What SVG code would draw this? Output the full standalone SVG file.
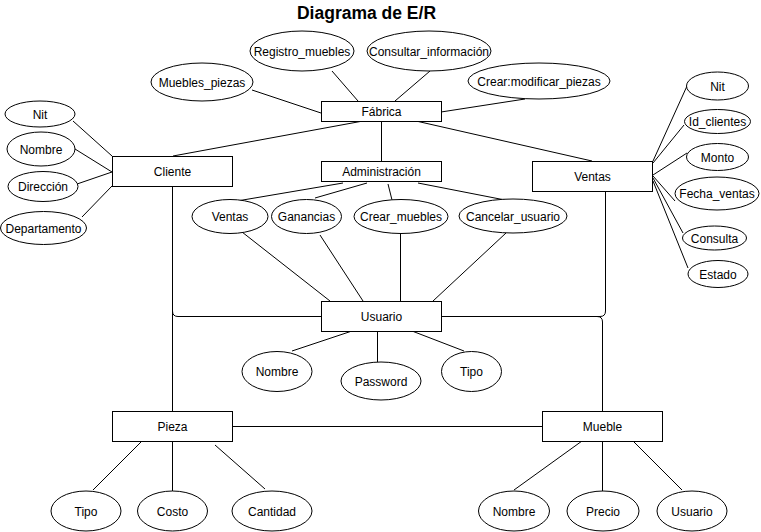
<svg xmlns="http://www.w3.org/2000/svg" width="761" height="532" viewBox="0 0 761 532">
<style>
rect,ellipse{fill:#fff;stroke:#000;stroke-width:1}
.c line,.c path{stroke:#000;stroke-width:1;fill:none}
text{font-family:"Liberation Sans",Arial,sans-serif;font-size:12px;text-anchor:middle;fill:#000}
.t{font-size:17.5px;font-weight:bold}
</style>
<rect x="0" y="0" width="761" height="532" style="stroke:none"/>
<text class="t" x="366.5" y="19">Diagrama de E/R</text>
<g class="c" id="connectors">
<line x1="252" y1="90" x2="321" y2="113"/>
<line x1="332" y1="71" x2="358" y2="101"/>
<line x1="430" y1="71" x2="395" y2="101"/>
<line x1="525" y1="99" x2="441" y2="112"/>
<line x1="363" y1="121" x2="173" y2="156"/>
<line x1="381.5" y1="121" x2="381.5" y2="161"/>
<line x1="416" y1="121" x2="592" y2="161"/>
<line x1="73" y1="121" x2="112" y2="156"/>
<line x1="75" y1="149" x2="112" y2="172"/>
<line x1="77" y1="184" x2="112" y2="172"/>
<line x1="82" y1="217" x2="112" y2="186"/>
<line x1="343" y1="183" x2="237" y2="201"/>
<line x1="367" y1="183" x2="315" y2="198"/>
<line x1="388" y1="184" x2="392" y2="200"/>
<line x1="418" y1="183" x2="505" y2="200"/>
<line x1="242" y1="232" x2="330" y2="301"/>
<line x1="320" y1="235" x2="363" y2="301"/>
<line x1="400.5" y1="233" x2="400.5" y2="301"/>
<line x1="506" y1="233" x2="433" y2="301"/>
<path d="M172.5,186 V311 Q172.5,316.5 178,316.5 H321"/>
<path d="M605.5,191 V311 Q605.5,316.5 600,316.5 H441"/>
<path d="M441,316.5 H597 Q602.5,316.5 602.5,322 V411"/>
<path d="M172.5,186 V411"/>
<path d="M232,426.5 H542"/>
<line x1="292" y1="351" x2="352" y2="331"/>
<line x1="377.5" y1="331" x2="377.5" y2="362"/>
<line x1="412" y1="331" x2="464" y2="351"/>
<line x1="93" y1="490" x2="142" y2="441"/>
<line x1="172.5" y1="441" x2="172.5" y2="491"/>
<line x1="215" y1="445" x2="265" y2="489"/>
<line x1="514" y1="490" x2="582" y2="441"/>
<line x1="602.5" y1="441" x2="602.5" y2="491"/>
<line x1="633" y1="441" x2="682" y2="490"/>
<line x1="687" y1="86" x2="653" y2="161"/>
<line x1="684" y1="125" x2="653" y2="163"/>
<line x1="687" y1="153" x2="653" y2="175"/>
<line x1="675" y1="201" x2="653" y2="176"/>
<line x1="683" y1="233" x2="653" y2="178"/>
<line x1="688" y1="268" x2="653" y2="181"/>
</g>
<g id="fabrica"><rect x="321.5" y="101.5" width="120" height="20"/><text x="381.5" y="115.5">Fábrica</text></g>
<g id="administracion"><rect x="321.5" y="161.5" width="120" height="20"/><text x="381.5" y="175.5">Administración</text></g>
<g id="cliente"><rect x="112.5" y="156.5" width="120" height="30"/><text x="172.5" y="175.5">Cliente</text></g>
<g id="ventas"><rect x="532.5" y="161.5" width="120" height="30"/><text x="592.5" y="180.5">Ventas</text></g>
<g id="usuario"><rect x="321.5" y="301.5" width="120" height="30"/><text x="381.5" y="320.5">Usuario</text></g>
<g id="pieza"><rect x="112.5" y="411.5" width="120" height="30"/><text x="172.5" y="430.5">Pieza</text></g>
<g id="mueble"><rect x="542.5" y="411.5" width="120" height="30"/><text x="602.5" y="430.5">Mueble</text></g>
<g id="registro_muebles"><ellipse cx="302" cy="51" rx="52" ry="20"/><text x="302" y="55.5">Registro_muebles</text></g>
<g id="consultar_informacion"><ellipse cx="429" cy="51" rx="62" ry="20"/><text x="429" y="55.5">Consultar_información</text></g>
<g id="muebles_piezas"><ellipse cx="202" cy="82" rx="51" ry="19"/><text x="202" y="86.5">Muebles_piezas</text></g>
<g id="crear_modificar_piezas"><ellipse cx="539" cy="81" rx="71" ry="18"/><text x="539" y="85.5">Crear:modificar_piezas</text></g>
<g id="cliente_nit"><ellipse cx="40" cy="114" rx="35" ry="13"/><text x="40" y="118.5">Nit</text></g>
<g id="cliente_nombre"><ellipse cx="41" cy="149" rx="34" ry="17"/><text x="41" y="153.5">Nombre</text></g>
<g id="cliente_direccion"><ellipse cx="43" cy="186.5" rx="35" ry="15"/><text x="43" y="191">Dirección</text></g>
<g id="cliente_departamento"><ellipse cx="43.5" cy="228" rx="43" ry="16.5"/><text x="43.5" y="232.5">Departamento</text></g>
<g id="admin_ventas"><ellipse cx="230" cy="216.5" rx="38" ry="17"/><text x="230" y="221">Ventas</text></g>
<g id="admin_ganancias"><ellipse cx="306.5" cy="216.5" rx="35" ry="17"/><text x="306.5" y="221">Ganancias</text></g>
<g id="admin_crear_muebles"><ellipse cx="401" cy="216.5" rx="47" ry="17"/><text x="401" y="221">Crear_muebles</text></g>
<g id="admin_cancelar_usuario"><ellipse cx="513" cy="216" rx="54" ry="17"/><text x="513" y="220.5">Cancelar_usuario</text></g>
<g id="usuario_nombre"><ellipse cx="277" cy="371.5" rx="35" ry="20"/><text x="277" y="376">Nombre</text></g>
<g id="usuario_password"><ellipse cx="381" cy="381" rx="40" ry="19"/><text x="381" y="386">Password</text></g>
<g id="usuario_tipo"><ellipse cx="471.5" cy="371.5" rx="30" ry="20"/><text x="471.5" y="376">Tipo</text></g>
<g id="ventas_nit"><ellipse cx="717.5" cy="86" rx="31" ry="14"/><text x="717.5" y="90.5">Nit</text></g>
<g id="ventas_id_clientes"><ellipse cx="717.5" cy="121.5" rx="33" ry="12"/><text x="717.5" y="126">Id_clientes</text></g>
<g id="ventas_monto"><ellipse cx="717.5" cy="157" rx="31" ry="13.5"/><text x="717.5" y="161.5">Monto</text></g>
<g id="ventas_fecha"><ellipse cx="717" cy="193.5" rx="42" ry="16.5"/><text x="717" y="198">Fecha_ventas</text></g>
<g id="ventas_consulta"><ellipse cx="714.5" cy="238" rx="32" ry="12"/><text x="714.5" y="242.5">Consulta</text></g>
<g id="ventas_estado"><ellipse cx="718" cy="274" rx="30" ry="13.5"/><text x="718" y="278.5">Estado</text></g>
<g id="pieza_tipo"><ellipse cx="86" cy="511" rx="35" ry="20"/><text x="86" y="515.5">Tipo</text></g>
<g id="pieza_costo"><ellipse cx="172.5" cy="511" rx="35" ry="20"/><text x="172.5" y="515.5">Costo</text></g>
<g id="pieza_cantidad"><ellipse cx="272" cy="511" rx="40" ry="20"/><text x="272" y="515.5">Cantidad</text></g>
<g id="mueble_nombre"><ellipse cx="514" cy="511" rx="35.5" ry="20"/><text x="514" y="515.5">Nombre</text></g>
<g id="mueble_precio"><ellipse cx="603" cy="511" rx="36" ry="20"/><text x="603" y="515.5">Precio</text></g>
<g id="mueble_usuario"><ellipse cx="692" cy="511" rx="35" ry="20"/><text x="692" y="515.5">Usuario</text></g>
</svg>
